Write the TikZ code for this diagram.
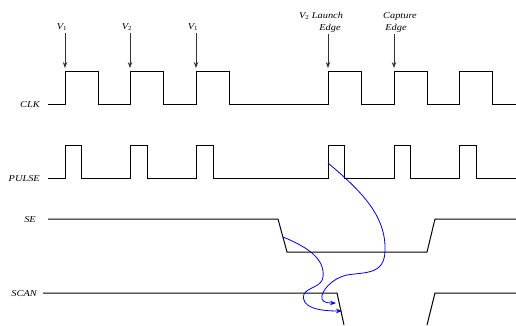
\documentclass[tikz,border=0pt]{standalone}
\usepackage{fontspec}
\setmainfont{Liberation Serif}[FakeStretch=1.15]
\usetikzlibrary{arrows.meta}
\begin{document}
\begin{tikzpicture}[x=1pt,y=-1pt,
  sig/.style={line width=1pt,black},
  lbl/.style={font=\fontsize{9}{10}\selectfont\itshape,inner sep=0pt},
  varrow/.style={line width=1pt,black!80,-{Stealth[length=6pt,width=4.5pt]}},
  bluearrow/.style={line width=0.8pt,blue!85!black,-{Stealth[length=6pt,width=4.5pt]}}]
\useasboundingbox (0,0) rectangle (516,325);
% signal labels
\node[lbl,anchor=east] (clk) at (40,105) {CLK};
\node[lbl,anchor=east] (pulse) at (40,179) {PULSE};
\node[lbl,anchor=east] (se) at (36,220) {SE};
\node[lbl,anchor=east] (scan) at (37,294) {SCAN};
% CLK
\draw[sig] (48,104) -- (65,104) -- (65,71) -- (98,71) -- (98,104) -- (130,104) -- (130,71) -- (163,71) -- (163,104)
  -- (196,104) -- (196,71) -- (229,71) -- (229,104) -- (328,104) -- (328,71) -- (361,71) -- (361,104)
  -- (394,104) -- (394,71) -- (427,71) -- (427,104) -- (459,104) -- (459,71) -- (492,71) -- (492,104) -- (516,104);
% PULSE
\draw[sig] (48,178) -- (65,178) -- (65,145) -- (81,145) -- (81,178) -- (130,178) -- (130,145) -- (147,145) -- (147,178)
  -- (196,178) -- (196,145) -- (213,145) -- (213,178) -- (328,178) -- (328,145) -- (344,145) -- (344,178)
  -- (394,178) -- (394,145) -- (410,145) -- (410,178) -- (459,178) -- (459,145) -- (476,145) -- (476,178) -- (516,178);
% SE
\draw[sig] (48,219) -- (278,219) -- (287,252) -- (427,252) -- (435,219) -- (516,219);
% SCAN
\draw[sig] (43,293) -- (337,293) -- (344,325);
\draw[sig] (427,325) -- (435,293) -- (516,293);
% edge labels
\node[lbl] (v1a) at (62,27) {V\textsubscript{\upshape 1}};
\node[lbl] (v2a) at (127,27) {V\textsubscript{\upshape 2}};
\node[lbl] (v1b) at (193,27) {V\textsubscript{\upshape 1}};
\node[lbl] (launch) at (321,16) {V\textsubscript{\upshape 2} Launch};
\node[lbl] (ledge) at (330,28) {Edge};
\node[lbl] (capture) at (400,16) {Capture};
\node[lbl] (cedge) at (396,28) {Edge};
% arrow end points
\coordinate (a1s) at (65,33); \coordinate (a1e) at (65,68);
\coordinate (a2s) at (130,33); \coordinate (a2e) at (130,68);
\coordinate (a3s) at (196,33); \coordinate (a3e) at (196,68);
\coordinate (a4s) at (328,34); \coordinate (a4e) at (328,68);
\coordinate (a5s) at (394,34); \coordinate (a5e) at (394,68);
\draw[varrow] (a1s) -- (a1e);
\draw[varrow] (a2s) -- (a2e);
\draw[varrow] (a3s) -- (a3e);
\draw[varrow] (a4s) -- (a4e);
\draw[varrow] (a5s) -- (a5e);
% blue causal curves
\coordinate (p1) at (328,163);
\coordinate (t1) at (336,303);
\coordinate (p2) at (283,237);
\coordinate (t2) at (342,311);
\draw[bluearrow] (p1) .. controls (360,190) and (386,215) .. (385,250)
  .. controls (385,275) and (365,272) .. (347,275)
  .. controls (332,278) and (320,292) .. (322,299)
  .. controls (323,303) and (330,303) .. (t1);
\draw[bluearrow] (p2) .. controls (310,248) and (325,260) .. (323,277)
  .. controls (322,287) and (308,287) .. (304,294)
  .. controls (300,308) and (320,311) .. (t2);
\end{tikzpicture}
\end{document}
